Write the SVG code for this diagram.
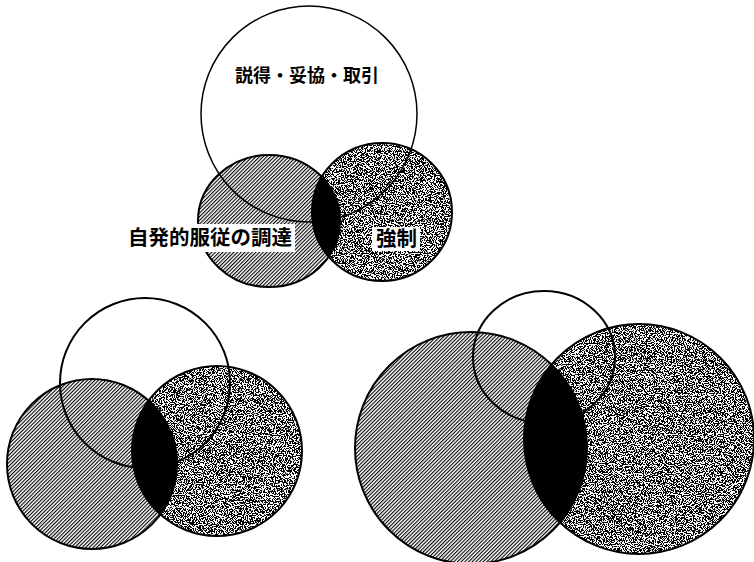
<svg xmlns="http://www.w3.org/2000/svg" width="754" height="562" viewBox="0 0 754 562">
<style>
.hatch{fill:url(#hatch);stroke:none}
.stip{fill:#000;stroke:none;filter:url(#stipple)}
.lens{fill:#000;stroke:none}
.edge{fill:none;stroke:#000;stroke-width:2}
.ring{fill:none;stroke:#000;stroke-width:1.5}
.box{fill:#fff;stroke:none}
.lbl{font-family:"Noto Sans CJK JP","Noto Sans CJK SC",sans-serif;font-weight:bold;fill:#000}
</style>
<defs>
<pattern id="hatch" patternUnits="userSpaceOnUse" width="2.6" height="2.6" patternTransform="rotate(45)">
<rect width="2.6" height="2.6" fill="#fff"/>
<rect width="1.1" height="2.6" fill="#000"/>
</pattern>
<filter id="stipple" x="-5%" y="-5%" width="110%" height="110%" color-interpolation-filters="sRGB">
<feTurbulence type="fractalNoise" baseFrequency="0.9" numOctaves="2" seed="7" result="noise"/>
<feColorMatrix in="noise" type="matrix" values="0 0 0 0 0  0 0 0 0 0  0 0 0 0 0  -40 0 0 0 20.8" result="dots"/>
<feFlood flood-color="#fff" result="white"/>
<feMerge result="m"><feMergeNode in="white"/><feMergeNode in="dots"/></feMerge>
<feComposite in="m" in2="SourceAlpha" operator="in"/>
</filter>
<clipPath id="clipA1"><ellipse cx="269" cy="221" rx="71" ry="66"/></clipPath>
<clipPath id="clipA2"><circle cx="92" cy="464" r="85"/></clipPath>
<clipPath id="clipA3"><circle cx="471" cy="448" r="116"/></clipPath>
</defs>
<rect width="754" height="562" fill="#fff"/>

<g id="diagram-top">
<g id="top-voluntary"><ellipse class="hatch" cx="269" cy="221" rx="71" ry="66"/></g>
<g id="top-coercion"><ellipse class="stip" cx="382" cy="212" rx="70" ry="69"/></g>
<g id="top-overlap"><ellipse class="lens" cx="382" cy="212" rx="70" ry="69" clip-path="url(#clipA1)"/></g>
<ellipse class="edge" cx="269" cy="221" rx="71" ry="66"/>
<ellipse class="edge" cx="382" cy="212" rx="70" ry="69"/>
<g id="top-persuasion"><circle class="ring" cx="309" cy="114" r="108"/></g>
<g id="label-persuasion"><text class="lbl" x="235" y="82" font-size="18">説得・妥協・取引</text></g>
<g id="label-voluntary"><rect class="box" x="125" y="224" width="170" height="28"/><text class="lbl" x="128" y="245" font-size="20.5">自発的服従の調達</text></g>
<g id="label-coercion"><rect class="box" x="372" y="227" width="48" height="24"/><text class="lbl" x="376" y="246" font-size="20.5">強制</text></g>
</g>

<g id="diagram-bottom-left">
<g id="bl-voluntary"><circle class="hatch" cx="92" cy="464" r="85"/></g>
<g id="bl-coercion"><circle class="stip" cx="217" cy="451" r="85"/></g>
<g id="bl-overlap"><circle class="lens" cx="217" cy="451" r="85" clip-path="url(#clipA2)"/></g>
<circle class="edge" cx="92" cy="464" r="85"/>
<circle class="edge" cx="217" cy="451" r="85"/>
<g id="bl-persuasion"><circle class="edge" cx="145" cy="383" r="85"/></g>
</g>

<g id="diagram-bottom-right">
<g id="br-voluntary"><circle class="hatch" cx="471" cy="448" r="116"/></g>
<g id="br-coercion"><circle class="stip" cx="639" cy="439" r="115"/></g>
<g id="br-overlap"><circle class="lens" cx="639" cy="439" r="115" clip-path="url(#clipA3)"/></g>
<circle class="edge" cx="471" cy="448" r="116"/>
<circle class="edge" cx="639" cy="439" r="115"/>
<g id="br-persuasion"><ellipse class="edge" cx="544" cy="357" rx="71" ry="66"/></g>
</g>
</svg>
